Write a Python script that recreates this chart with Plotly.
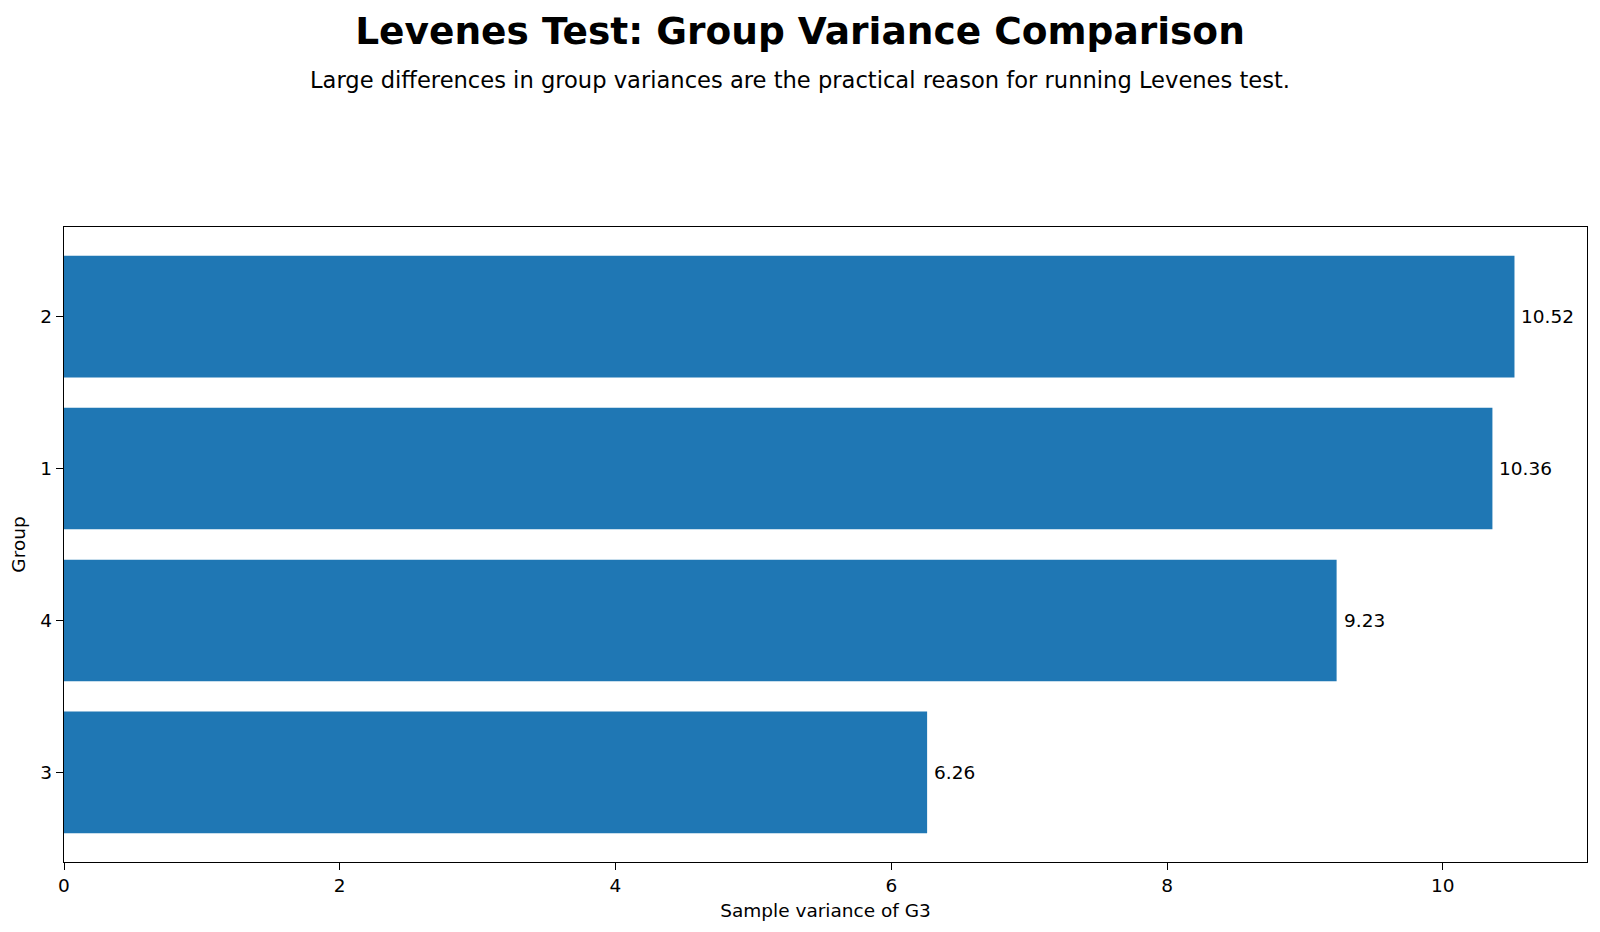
import plotly.graph_objects as go

groups = ["3", "4", "1", "2"]
variances = [6.26, 9.23, 10.36, 10.52]
value_labels = ["6.26", "9.23", "10.36", "10.52"]
x_ticks = [0, 2, 4, 6, 8, 10]

FONT = "DejaVu Sans"
BLUE = "#1f77b4"

# page body adds an 8px offset; margins compensate for it
L, R, T, B = 56, 21, 219, 78
W, H = 1600, 932
PW, PH = W - L - R, H - T - B

fig = go.Figure()
fig.add_trace(go.Bar(
    x=variances, y=groups, orientation="h", width=0.8,
    marker=dict(color=BLUE, line=dict(width=0)),
    hoverinfo="x+y",
))

for i, (v, t) in enumerate(zip(variances, value_labels)):
    fig.add_annotation(x=v, y=i, text=t, showarrow=False, xanchor="left",
                       yanchor="middle", xshift=5,
                       font=dict(family=FONT, size=18.5, color="black"))

fig.update_layout(
    width=W, height=H,
    margin=dict(l=L, r=R, t=T, b=B),
    paper_bgcolor="white", plot_bgcolor="white",
    font=dict(family=FONT, size=18.5, color="black"),
    showlegend=False,
    title=dict(text="<b>Levenes Test: Group Variance Comparison</b>",
               x=792 / W, xref="container", xanchor="center",
               y=1 - 23 / H, yref="container", yanchor="middle",
               font=dict(family=FONT, size=37.5, color="black")),
    bargap=0.2,
)
fig.add_annotation(text="Large differences in group variances are the practical reason for running Levenes test.",
                   xref="paper", yref="paper",
                   x=(792 - L) / PW, y=1 + (T - 72) / PH,
                   xanchor="center", yanchor="middle", showarrow=False,
                   font=dict(family=FONT, size=22.6, color="black"))

fig.update_xaxes(
    range=[0, 11.046], tickvals=x_ticks, ticktext=[str(t) for t in x_ticks],
    showgrid=False, zeroline=False, automargin=False,
    showline=True, linecolor="black", linewidth=1.3, mirror=True,
    ticks="outside", ticklen=7, tickwidth=1.3, tickcolor="black",
    tickfont=dict(family=FONT, size=18.5, color="black"),
    title=dict(text="Sample variance of G3", standoff=8,
               font=dict(family=FONT, size=18.5, color="black")),
)
fig.update_yaxes(
    type="category", categoryorder="array", categoryarray=groups,
    range=[-0.59, 3.59],
    showgrid=False, zeroline=False, automargin=False,
    showline=True, linecolor="black", linewidth=1.3, mirror=True,
    ticks="outside", ticklen=7, tickwidth=1.3, tickcolor="black",
    tickfont=dict(family=FONT, size=18.5, color="black"),
    title=dict(text="Group", standoff=12,
               font=dict(family=FONT, size=18.5, color="black")),
)

fig.write_html("out.html")
